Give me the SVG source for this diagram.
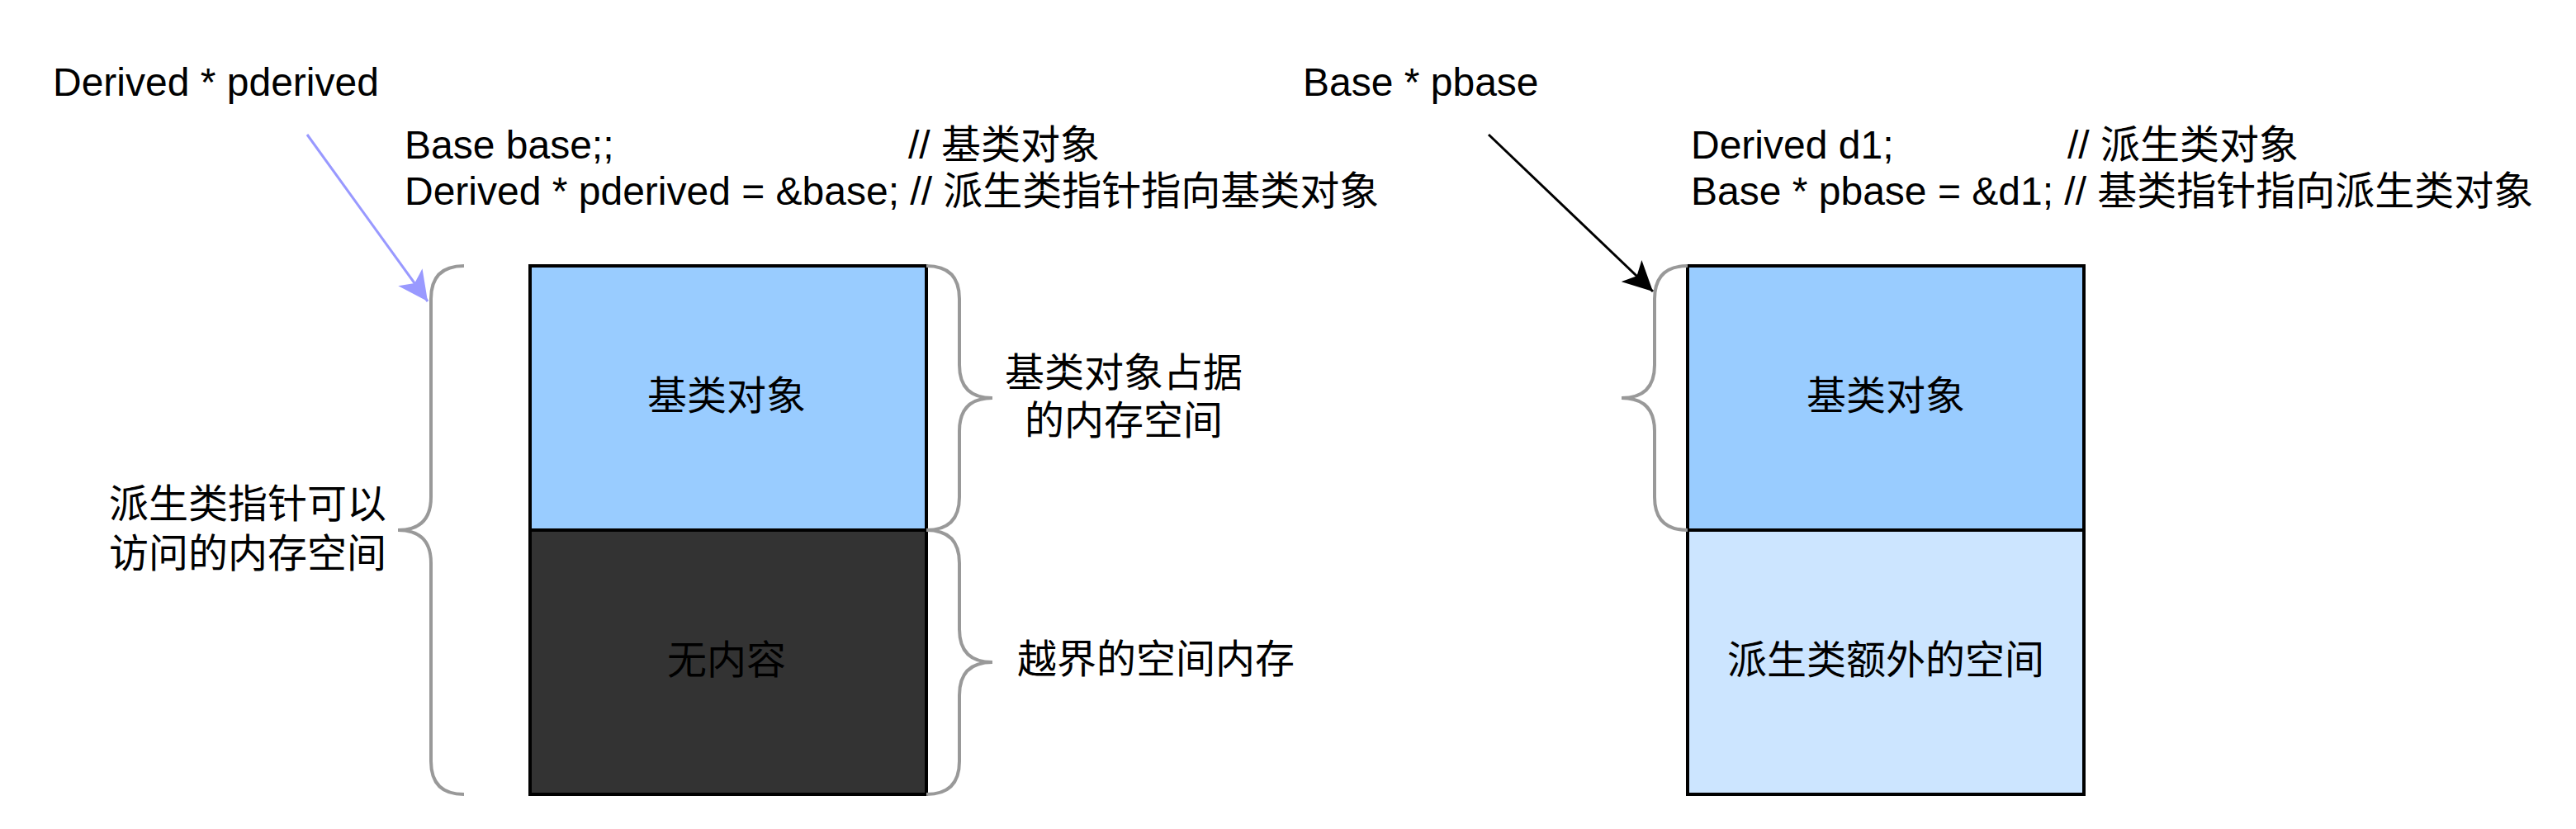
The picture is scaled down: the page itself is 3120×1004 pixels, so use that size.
<svg xmlns="http://www.w3.org/2000/svg" width="3120" height="1004" viewBox="0 0 3120 1004">
<style>
text{font-family:"Liberation Sans","Noto Sans CJK SC",sans-serif;font-size:48px;fill:#000}
.box{stroke:#000;stroke-width:4}
.brace{fill:none;stroke:#999999;stroke-width:4}
.c{text-anchor:middle}
</style>
<defs>
<marker id="ahBlue" markerUnits="userSpaceOnUse" markerWidth="36" markerHeight="36" viewBox="0 0 36 36" refX="36" refY="18" orient="auto"><path d="M0,0 L36,18 L0,36 L9,18 Z" fill="#9999FF"/></marker>
<marker id="ahBlack" markerUnits="userSpaceOnUse" markerWidth="36" markerHeight="36" viewBox="0 0 36 36" refX="36" refY="18" orient="auto"><path d="M0,0 L36,18 L0,36 L9,18 Z" fill="#000"/></marker>
</defs>
<rect width="3120" height="1004" fill="#fff"/>

<g id="label-pderived"><text x="64" y="116">Derived * pderived</text></g>
<g id="code-left"><text x="490" y="192">Base base;;</text><text x="1100" y="192">// 基类对象</text><text x="490" y="248">Derived * pderived = &amp;base; // 派生类指针指向基类对象</text></g>
<g id="label-pbase"><text x="1578" y="116">Base * pbase</text></g>
<g id="code-right"><text x="2048" y="192">Derived d1;</text><text x="2504" y="192">// 派生类对象</text><text x="2048" y="248">Base * pbase = &amp;d1; // 基类指针指向派生类对象</text></g>

<g id="left-base"><rect class="box" x="642" y="322" width="480" height="320" fill="#99CCFF"/><text class="c" x="880" y="496">基类对象</text></g>
<g id="left-empty"><rect class="box" x="642" y="642" width="480" height="320" fill="#333333"/><text class="c" x="880" y="816">无内容</text></g>
<g id="right-base"><rect class="box" x="2044" y="322" width="480" height="320" fill="#99CCFF"/><text class="c" x="2284" y="496">基类对象</text></g>
<g id="right-extra"><rect class="box" x="2044" y="642" width="480" height="320" fill="#CCE5FF"/><text class="c" x="2284" y="816">派生类额外的空间</text></g>

<g id="brace-left-all"><path class="brace" d="M562,322 Q522,322 522,362 L522,602 Q522,642 482,642 Q522,642 522,682 L522,922 Q522,962 562,962"/></g>
<g id="label-left-all"><text class="c" x="300" y="627">派生类指针可以</text><text class="c" x="300" y="687">访问的内存空间</text></g>
<g id="brace-base"><path class="brace" d="M1122,322 Q1162,322 1162,362 L1162,442 Q1162,482 1202,482 Q1162,482 1162,522 L1162,602 Q1162,642 1122,642"/></g>
<g id="label-base"><text class="c" x="1361" y="468">基类对象占据</text><text class="c" x="1361" y="526">的内存空间</text></g>
<g id="brace-over"><path class="brace" d="M1122,642 Q1162,642 1162,682 L1162,762 Q1162,802 1202,802 Q1162,802 1162,842 L1162,922 Q1162,962 1122,962"/></g>
<g id="label-over"><text x="1232" y="815">越界的空间内存</text></g>
<g id="brace-right"><path class="brace" d="M2044,322 Q2004,322 2004,362 L2004,442 Q2004,482 1964,482 Q2004,482 2004,522 L2004,602 Q2004,642 2044,642"/></g>

<g id="connectors">
<line x1="372" y1="163" x2="518" y2="365" stroke="#9999FF" stroke-width="3" marker-end="url(#ahBlue)"/>
<line x1="1803" y1="163" x2="2002" y2="353" stroke="#000" stroke-width="3" marker-end="url(#ahBlack)"/>
</g>
</svg>
